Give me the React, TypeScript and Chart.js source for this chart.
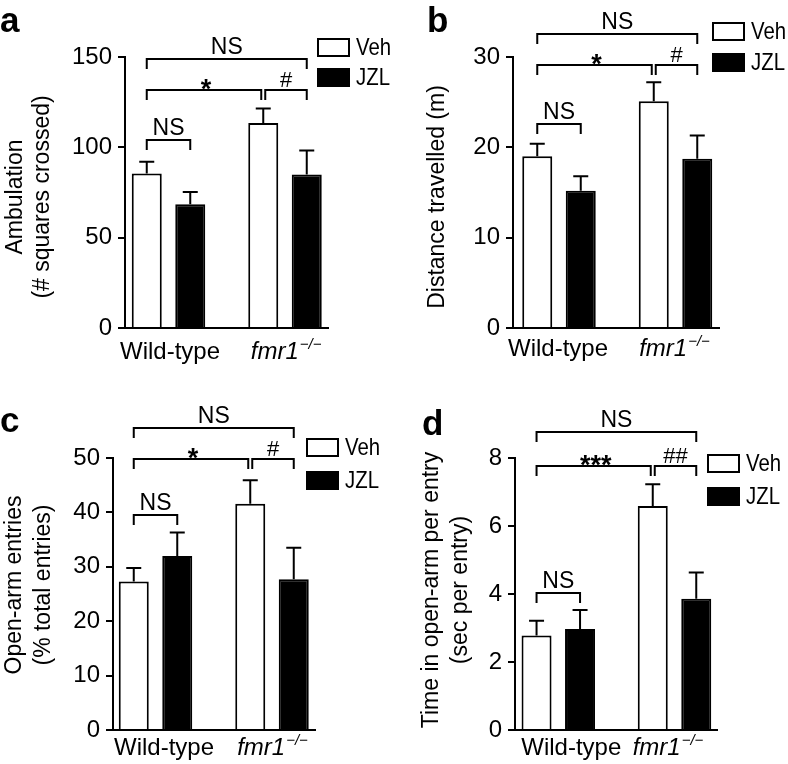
import React, { useEffect, useRef } from 'react';
import { Chart, registerables } from 'chart.js';

Chart.register(...registerables);

const FONT = '"Liberation Sans", Arial, Helvetica, sans-serif';

// ---------- data ----------
const groupLabels = ['Wild-type', 'fmr1'];
const groupSuperscripts = ['', '\u2212/\u2212'];
const seriesLabels = ['Veh', 'JZL'];

// (a) Ambulation (# squares crossed)
const ambulationVeh = [85.5, 113.4];
const ambulationVehSem = [6.5, 8.1];
const ambulationJzl = [68.5, 85.0];
const ambulationJzlSem = [6.8, 13.3];
const ambulationTicks = [0, 50, 100, 150];

// (b) Distance travelled (m)
const distanceVeh = [19.0, 25.1];
const distanceVehSem = [1.4, 2.1];
const distanceJzl = [15.2, 18.75];
const distanceJzlSem = [1.6, 2.55];
const distanceTicks = [0, 10, 20, 30];

// (c) Open-arm entries (% total entries)
const entriesVeh = [27.3, 41.6];
const entriesVehSem = [2.5, 4.3];
const entriesJzl = [32.0, 27.7];
const entriesJzlSem = [4.3, 5.8];
const entriesTicks = [0, 10, 20, 30, 40, 50];

// (d) Time in open-arm per entry (sec per entry)
const timeVeh = [2.78, 6.59];
const timeVehSem = [0.43, 0.64];
const timeJzl = [2.97, 3.86];
const timeJzlSem = [0.56, 0.77];
const timeTicks = [0, 2, 4, 6, 8];

// significance brackets: [label, fromBar, toBar, level]
// bars: 0 = WT Veh, 1 = WT JZL, 2 = fmr1 Veh, 3 = fmr1 JZL
type Sig = [string, number, number, number];
const ambulationSig: Sig[] = [['NS', 0, 3, 148.7], ['*', 0, 2, 131.6], ['#', 2, 3, 131.6], ['NS', 0, 1, 103.9]];
const distanceSig: Sig[] = [['NS', 0, 3, 32.6], ['*', 0, 2, 29.06], ['#', 2, 3, 29.06], ['NS', 0, 1, 22.54]];
const entriesSig: Sig[] = [['NS', 0, 3, 55.43], ['*', 0, 2, 49.8], ['#', 2, 3, 49.8], ['NS', 0, 1, 39.48]];
const timeSig: Sig[] = [['NS', 0, 3, 8.77], ['***', 0, 2, 7.76], ['##', 2, 3, 7.76], ['NS', 0, 1, 4.03]];

const panelLetters = ['a', 'b', 'c', 'd'];
const panelTitles = [
  ['Ambulation', '(# squares crossed)'],
  ['Distance travelled (m)'],
  ['Open-arm entries', '(% total entries)'],
  ['Time in open-arm per entry', '(sec per entry)'],
];

const PANELS = [
  { veh: ambulationVeh, vehSem: ambulationVehSem, jzl: ambulationJzl, jzlSem: ambulationJzlSem, ticks: ambulationTicks, sig: ambulationSig },
  { veh: distanceVeh, vehSem: distanceVehSem, jzl: distanceJzl, jzlSem: distanceJzlSem, ticks: distanceTicks, sig: distanceSig },
  { veh: entriesVeh, vehSem: entriesVehSem, jzl: entriesJzl, jzlSem: entriesJzlSem, ticks: entriesTicks, sig: entriesSig },
  { veh: timeVeh, vehSem: timeVehSem, jzl: timeJzl, jzlSem: timeJzlSem, ticks: timeTicks, sig: timeSig },
];

// ---------- layout (pixels inside each 394x382 panel) ----------
const W = 394;
const H = 382;
const LAYOUTS = [
  { ox: 0, oy: 0, area: { l: 125, r: 328, t: 57, b: 328 }, groups: [168.5, 285], letter: { x: 0, y: 32 }, titleXs: [16, 43], titleCy: 197, xLabelY: 359, xLabelDx: [1.5, 0.7], legend: { x: 317, ys: [38, 68] } },
  { ox: 394, oy: 0, area: { l: 119, r: 325, t: 57, b: 328 }, groups: [165, 281.5], letter: { x: 33, y: 32 }, titleXs: [44], titleCy: 197, xLabelY: 356, xLabelDx: [-1, -1.5], legend: { x: 318, ys: [22, 53] } },
  { ox: 0, oy: 382, area: { l: 113, r: 315, t: 76, b: 348 }, groups: [155.5, 272], letter: { x: 0, y: 50 }, titleXs: [15, 44], titleCy: 203, xLabelY: 373, xLabelDx: [8.5, 0], legend: { x: 306, ys: [56, 89] } },
  { ox: 394, oy: 382, area: { l: 121, r: 323, t: 76, b: 348 }, groups: [164.3, 280.5], letter: { x: 28, y: 53 }, titleXs: [38, 67], titleCy: 208, xLabelY: 373, xLabelDx: [13, -7], legend: { x: 313, ys: [72, 105] } },
];

function makeAnnot(idx: number) {
  const p = PANELS[idx];
  const lay = LAYOUTS[idx];
  return {
    id: 'annot' + idx,
    afterDraw(chart: any) {
      const ctx: CanvasRenderingContext2D = chart.ctx;
      const y = chart.scales.y;
      const x = chart.scales.x;
      const bar = (k: number) => chart.getDatasetMeta(k % 2).data[Math.floor(k / 2)];
      const means = [p.veh, p.jzl];
      const sems = [p.vehSem, p.jzlSem];
      ctx.save();
      ctx.strokeStyle = '#000';
      ctx.fillStyle = '#000';
      ctx.lineWidth = 2;
      ctx.lineCap = 'butt';

      // error bars
      for (let k = 0; k < 4; k++) {
        const ds = k % 2;
        const i = Math.floor(k / 2);
        const el = bar(k);
        const yb = y.getPixelForValue(means[ds][i]);
        const yt = y.getPixelForValue(means[ds][i] + sems[ds][i]);
        ctx.beginPath();
        ctx.moveTo(el.x, yb);
        ctx.lineTo(el.x, yt);
        ctx.moveTo(el.x - 7.5, yt);
        ctx.lineTo(el.x + 7.5, yt);
        ctx.stroke();
      }

      // brackets
      ctx.textAlign = 'center';
      ctx.textBaseline = 'alphabetic';
      for (const [label, from, to, level] of p.sig) {
        const x1 = bar(from).x + (from === 2 ? 2 : 0);
        const x2 = bar(to).x - (to === 2 ? 2 : 0);
        const yy = Math.round(y.getPixelForValue(level));
        ctx.beginPath();
        ctx.moveTo(x1, yy + 10);
        ctx.lineTo(x1, yy);
        ctx.lineTo(x2, yy);
        ctx.lineTo(x2, yy + 10);
        ctx.stroke();
        const cx = (x1 + x2) / 2;
        if (label.includes('*')) {
          ctx.font = `bold 27px ${FONT}`;
          ctx.fillText(label, cx + 2, yy + 8);
        } else if (label.includes('#')) {
          ctx.font = `22px ${FONT}`;
          ctx.fillText(label, cx, yy - 3);
        } else {
          ctx.font = `23px ${FONT}`;
          ctx.fillText(label, cx, yy - 5);
        }
      }

      // x category labels
      for (let g = 0; g < groupLabels.length; g++) {
        const cx = x.getPixelForValue(g) + lay.xLabelDx[g];
        const italic = groupSuperscripts[g] !== '';
        const mainFont = `${italic ? 'italic ' : ''}24px ${FONT}`;
        const supFont = `italic 15px ${FONT}`;
        ctx.font = mainFont;
        const w1 = ctx.measureText(groupLabels[g]).width;
        ctx.font = supFont;
        const w2 = groupSuperscripts[g] ? ctx.measureText(groupSuperscripts[g]).width : 0;
        const sx = cx - (w1 + w2) / 2;
        ctx.textAlign = 'left';
        ctx.font = mainFont;
        ctx.fillText(groupLabels[g], sx, lay.xLabelY);
        if (w2) {
          ctx.font = supFont;
          ctx.fillText(groupSuperscripts[g], sx + w1 + 1, lay.xLabelY - 10);
        }
      }

      // y title
      ctx.font = `23px ${FONT}`;
      ctx.textAlign = 'center';
      ctx.textBaseline = 'middle';
      panelTitles[idx].forEach((t, i) => {
        ctx.save();
        ctx.translate(lay.titleXs[i], lay.titleCy);
        ctx.rotate(-Math.PI / 2);
        ctx.fillText(t, 0, 0);
        ctx.restore();
      });

      // panel letter
      ctx.font = `bold 35px ${FONT}`;
      ctx.textAlign = 'left';
      ctx.textBaseline = 'alphabetic';
      ctx.fillText(panelLetters[idx], lay.letter.x, lay.letter.y);

      // legend
      const bw = 33;
      const bh = 19;
      seriesLabels.forEach((s, i) => {
        const bx = lay.legend.x;
        const by = lay.legend.ys[i];
        if (i === 0) {
          ctx.fillStyle = '#fff';
          ctx.fillRect(bx, by, bw, bh);
          ctx.strokeRect(bx + 1, by + 1, bw - 2, bh - 2);
        } else {
          ctx.fillStyle = '#000';
          ctx.fillRect(bx, by, bw, bh);
        }
        ctx.fillStyle = '#000';
        ctx.font = `24px ${FONT}`;
        ctx.textAlign = 'left';
        ctx.textBaseline = 'middle';
        ctx.save();
        ctx.translate(bx + bw + 6, by + bh / 2 + 1);
        ctx.scale(0.85, 1);
        ctx.fillText(s, 0, 0);
        ctx.restore();
      });
      ctx.restore();
    },
  };
}

function Panel({ idx }: { idx: number }) {
  const ref = useRef<HTMLCanvasElement>(null);
  useEffect(() => {
    const p = PANELS[idx];
    const lay = LAYOUTS[idx];
    const spacing = lay.groups[1] - lay.groups[0];
    const xMin = -(lay.groups[0] - lay.area.l) / spacing;
    const xMax = 1 + (lay.area.r - lay.groups[1]) / spacing;
    const XH = 10;
    const catPct = 87 / spacing;
    const barPct = 30 / 43.5;
    const chart = new Chart(ref.current as HTMLCanvasElement, {
      type: 'bar',
      data: {
        datasets: [
          {
            label: seriesLabels[0],
            data: p.veh.map((v, i) => ({ x: i, y: v })),
            backgroundColor: '#ffffff',
            borderColor: '#000000',
            borderWidth: 2,
            categoryPercentage: catPct,
            barPercentage: barPct,
          },
          {
            label: seriesLabels[1],
            data: p.jzl.map((v, i) => ({ x: i, y: v })),
            backgroundColor: '#000000',
            borderColor: '#000000',
            borderWidth: 2,
            categoryPercentage: catPct,
            barPercentage: barPct,
          },
        ],
      } as any,
      options: {
        responsive: false,
        animation: false,
        events: [],
        layout: {
          padding: { left: 0, top: lay.area.t, right: W - lay.area.r, bottom: H - lay.area.b - XH },
        },
        plugins: { legend: { display: false }, tooltip: { enabled: false } },
        scales: {
          x: {
            type: 'linear',
            min: xMin,
            max: xMax,
            offset: false,
            z: 1,
            afterBuildTicks: (s: any) => {
              s.ticks = groupLabels.map((_, i) => ({ value: i }));
            },
            afterFit: (s: any) => {
              s.height = XH;
            },
            ticks: { display: false },
            grid: { display: false },
            border: { display: true, color: '#000', width: 2 },
          },
          y: {
            type: 'linear',
            min: p.ticks[0],
            max: p.ticks[p.ticks.length - 1],
            afterBuildTicks: (s: any) => {
              s.ticks = p.ticks.map((v) => ({ value: v }));
            },
            afterFit: (s: any) => {
              s.width = lay.area.l;
            },
            ticks: { color: '#000', font: { family: FONT, size: 24 }, padding: 6 },
            grid: { display: true, drawOnChartArea: false, drawTicks: true, tickLength: 7, color: '#000', lineWidth: 2 },
            border: { display: true, color: '#000', width: 2 },
          },
        },
      } as any,
      plugins: [makeAnnot(idx)],
    });
    return () => chart.destroy();
  }, [idx]);
  const lay = LAYOUTS[idx];
  return (
    <div style={{ position: 'absolute', left: lay.ox, top: lay.oy, width: W, height: H }}>
      <canvas ref={ref} width={W} height={H} style={{ display: 'block' }} />
    </div>
  );
}

export default function App() {
  return (
    <div style={{ position: 'absolute', left: 0, top: 0, width: 788, height: 764, background: '#fff' }}>
      {PANELS.map((_, i) => (
        <Panel key={i} idx={i} />
      ))}
    </div>
  );
}
